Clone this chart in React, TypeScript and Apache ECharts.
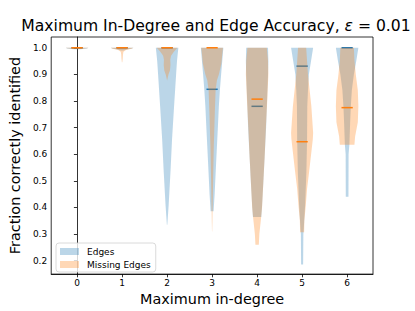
import React, { useEffect, useRef } from "react";
import * as echarts from "echarts";

const categories = ["0", "1", "2", "3", "4", "5", "6"];
const yTicks = [0.2, 0.3, 0.4, 0.5, 0.6, 0.7, 0.8, 0.9, 1.0];

const edgesMedians = [1.0, 1.0, 1.0, 0.844, 0.78, 0.931, 1.0];
const missingMedians = [1.0, 1.0, 1.0, 1.0, 0.807, 0.647, 0.775];

// [value, relative density] for each violin, top to bottom
const edgesProfiles: [number, number][][] = [
  [[1.0, 1.0], [0.997, 0.9], [0.994, 0.3]],
  [[1.0, 1.0], [0.997, 0.9], [0.994, 0.5], [0.99, 0.1]],
  [[1.0, 1.0], [0.95, 0.88], [0.9, 0.8], [0.78, 0.62], [0.656, 0.44], [0.533, 0.3], [0.41, 0.14], [0.335, 0.02]],
  [[1.0, 1.0], [0.9, 0.8], [0.84, 0.69], [0.78, 0.6], [0.69, 0.5], [0.57, 0.36], [0.446, 0.22], [0.386, 0.13]],
  [[1.0, 0.97], [0.95, 1.0], [0.9, 0.97], [0.8, 0.88], [0.7, 0.8], [0.6, 0.68], [0.5, 0.56], [0.4, 0.43], [0.364, 0.37]],
  [[1.0, 0.98], [0.952, 0.8], [0.9, 0.6], [0.84, 0.52], [0.78, 0.46], [0.656, 0.44], [0.533, 0.38], [0.41, 0.27], [0.31, 0.13], [0.3, 0.11], [0.186, 0.09]],
  [[1.0, 1.0], [0.952, 0.82], [0.9, 0.6], [0.84, 0.42], [0.78, 0.33], [0.72, 0.27], [0.636, 0.2], [0.6, 0.13], [0.44, 0.12]],
];

const missingProfiles: [number, number][][] = [
  [[1.0, 1.0], [0.998, 0.9], [0.995, 0.3]],
  [[1.0, 1.0], [0.996, 0.85], [0.992, 0.35], [0.985, 0.12], [0.975, 0.08], [0.96, 0.06], [0.946, 0.02]],
  [[1.0, 0.92], [0.985, 0.6], [0.97, 0.35], [0.955, 0.28], [0.935, 0.3], [0.915, 0.25], [0.9, 0.12], [0.885, 0.04], [0.877, 0.0]],
  [[1.0, 0.96], [0.94, 0.82], [0.9, 0.6], [0.878, 0.43], [0.84, 0.31], [0.756, 0.24], [0.63, 0.15], [0.507, 0.09], [0.39, 0.045], [0.35, 0.03], [0.31, 0.01]],
  [[1.0, 0.86], [0.95, 0.97], [0.9, 1.0], [0.8, 0.9], [0.7, 0.78], [0.6, 0.68], [0.5, 0.56], [0.4, 0.44], [0.364, 0.36], [0.3, 0.2], [0.26, 0.15]],
  [[1.0, 0.36], [0.9, 0.52], [0.78, 0.82], [0.68, 0.98], [0.656, 0.95], [0.6, 0.8], [0.533, 0.62], [0.47, 0.44], [0.41, 0.33], [0.35, 0.2], [0.307, 0.18]],
  [[1.0, 0.6], [0.952, 0.65], [0.9, 0.77], [0.84, 0.95], [0.78, 1.0], [0.72, 0.95], [0.667, 0.71], [0.636, 0.65]],
];

const HALF = 0.25;
const FONT = "DejaVu Sans";
const BLUE = "#1f77b4";
const ORANGE = "#ff7f0e";
const BLUE_FILL = "rgba(31,119,180,0.3)";
const ORANGE_FILL = "rgba(255,127,14,0.3)";

function violinRender(profiles: [number, number][][], fill: string) {
  return (params: any, api: any) => {
    const i = params.dataIndex;
    const prof = profiles[i];
    const right = prof.map(([v, d]) => api.coord([i + d * HALF, v]));
    const left = prof
      .slice()
      .reverse()
      .map(([v, d]) => api.coord([i - d * HALF, v]));
    return {
      type: "polygon",
      shape: { points: right.concat(left) },
      style: { fill, stroke: "none" },
    };
  };
}

function medianRender(color: string) {
  return (params: any, api: any) => {
    const x = api.value(0);
    const y = api.value(1);
    const p1 = api.coord([x - HALF / 2, y]);
    const p2 = api.coord([x + HALF / 2, y]);
    return {
      type: "line",
      shape: { x1: p1[0], y1: p1[1], x2: p2[0], y2: p2[1] },
      style: { stroke: color, lineWidth: 1.5 },
    };
  };
}

export default function App() {
  const ref = useRef<HTMLDivElement>(null);
  useEffect(() => {
    if (!ref.current) return;
    const chart = echarts.init(ref.current, null, { renderer: "svg" });
    const idx = categories.map((_, i) => [i, 1]);
    chart.setOption({
      animation: false,
      backgroundColor: "#fff",
      textStyle: { fontFamily: FONT },
      title: {
        text: "{a|Maximum In-Degree and Edge Accuracy, }{e|ε}{a| = 0.01}",
        left: 211,
        textAlign: "center",
        top: 13,
        textStyle: {
          fontWeight: "normal",
          fontFamily: FONT,
          fontSize: 15.6,
          rich: {
            a: { fontFamily: FONT, fontSize: 15.6, fontWeight: "normal", color: "#000" },
            e: { fontFamily: FONT, fontSize: 15.6, fontWeight: "normal", fontStyle: "italic", color: "#000" },
          },
        },
      },
      grid: {
        left: 51,
        right: 42,
        top: 37,
        bottom: 35,
        show: true,
        borderColor: "#000",
        borderWidth: 0.8,
        backgroundColor: "transparent",
      },
      legend: {
        data: ["Edges", "Missing Edges"],
        orient: "vertical",
        left: 56,
        top: 243,
        icon: "rect",
        itemWidth: 19,
        itemHeight: 7,
        itemGap: 4,
        padding: [4, 5, 3, 4],
        backgroundColor: "rgba(255,255,255,0.8)",
        borderColor: "#d0d0d0",
        borderWidth: 0.8,
        borderRadius: 3,
        textStyle: { fontFamily: FONT, fontSize: 9, color: "#000", padding: [0, 0, 0, 3] },
      },
      xAxis: {
        type: "value",
        min: -0.575,
        max: 6.575,
        name: "Maximum in-degree",
        nameLocation: "middle",
        nameGap: 17,
        nameTextStyle: { fontFamily: FONT, fontSize: 14.4, color: "#000" },
        axisLine: { show: true, lineStyle: { color: "#000", width: 0.8 } },
        axisTick: { show: true, length: 3.2, customValues: categories.map((_, i) => i), lineStyle: { color: "#000", width: 0.8 } },
        axisLabel: {
          customValues: categories.map((_, i) => i),
          formatter: (v: number) => categories[Math.round(v)] ?? "",
          fontFamily: FONT,
          fontSize: 9,
          color: "#000",
          margin: 4,
        },
        splitLine: { show: false },
      },
      yAxis: {
        type: "value",
        min: 0.1495,
        max: 1.0405,
        name: "Fraction correctly identified",
        nameLocation: "middle",
        nameGap: 26,
        nameTextStyle: { fontFamily: FONT, fontSize: 14.4, color: "#000" },
        axisLine: { show: true, lineStyle: { color: "#000", width: 0.8 } },
        axisTick: { show: true, length: 3.2, customValues: yTicks, lineStyle: { color: "#000", width: 0.8 } },
        axisLabel: {
          customValues: yTicks,
          formatter: (v: number) => v.toFixed(1),
          fontFamily: FONT,
          fontSize: 9,
          color: "#000",
          margin: 4,
        },
        splitLine: { show: false },
      },
      series: [
        {
          name: "Edges",
          type: "custom",
          data: idx,
          itemStyle: { color: BLUE_FILL },
          renderItem: violinRender(edgesProfiles, BLUE_FILL),
          clip: false,
        },
        {
          name: "edges-median",
          type: "custom",
          data: edgesMedians.map((m, i) => [i, m]),
          itemStyle: { color: BLUE },
          renderItem: medianRender(BLUE),
          clip: false,
        },
        {
          name: "Missing Edges",
          type: "custom",
          data: idx,
          itemStyle: { color: ORANGE_FILL },
          renderItem: violinRender(missingProfiles, ORANGE_FILL),
          clip: false,
        },
        {
          name: "missing-median",
          type: "custom",
          data: missingMedians.map((m, i) => [i, m]),
          itemStyle: { color: ORANGE },
          renderItem: medianRender(ORANGE),
          clip: false,
        },
      ],
    });
    return () => chart.dispose();
  }, []);
  return <div ref={ref} style={{ width: 415, height: 311, position: "absolute", left: 0, top: 0 }} />;
}
